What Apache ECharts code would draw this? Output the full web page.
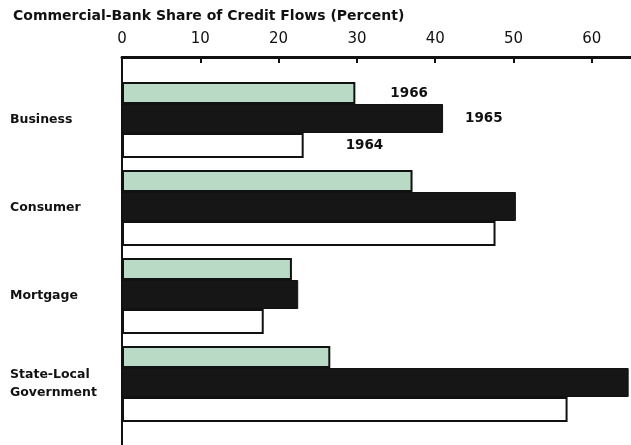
<!DOCTYPE html>
<html>
<head>
<meta charset="utf-8">
<script src="https://cdn.jsdelivr.net/npm/echarts@6/dist/echarts.min.js"></script>
<style>
  html, body { margin: 0; padding: 0; background: #fff; }
  #chart { width: 631px; height: 445px; }
</style>
</head>
<body>
<div id="chart"></div>
<script>
const categories = ["Business", "Consumer", "Mortgage", "State-Local\nGovernment"];
const seriesNames = ["1966", "1965", "1964"];
const share1966 = [29.8, 37.1, 21.7, 26.6];
const share1965 = [41.0, 50.3, 22.5, 64.7];
const share1964 = [23.2, 47.7, 18.1, 56.9];
const xTicks = [0, 10, 20, 30, 40, 50, 60];

const chart = echarts.init(document.getElementById("chart"));
const font = "DejaVu Sans";

// label only the first group (Business) with the year
function withYearLabel(values, dist) {
  return values.map((v, i) =>
    i === 0 ? { value: v, label: { show: true, position: "right", distance: dist } } : v
  );
}

const barLabel = {
  show: false,
  formatter: "{a}",
  color: "#111",
  fontFamily: font,
  fontWeight: "bold",
  fontSize: 13.5
};

const option = {
  animation: false,
  title: {
    text: "Commercial-Bank Share of Credit Flows (Percent)",
    left: 8,
    top: 4,
    textStyle: { fontFamily: font, fontWeight: "bold", fontSize: 14, color: "#111" }
  },
  grid: [
    { left: 122, right: 0, top: 76, height: 352 },
    { left: 122, right: 0, top: 57, bottom: 0 }
  ],
  xAxis: [
    { gridIndex: 0, type: "value", min: 0, max: 65, show: false },
    {
      gridIndex: 1,
      type: "value",
      position: "top",
      min: 0,
      max: 65,
      interval: 10,
      axisLine: { show: true, onZero: false, lineStyle: { color: "#111", width: 3 } },
      axisTick: {
        show: true,
        inside: true,
        length: 6,
        customValues: xTicks,
        lineStyle: { color: "#111", width: 2 }
      },
      splitLine: { show: false },
      axisLabel: {
        margin: 10,
        fontFamily: font,
        fontSize: 15,
        color: "#111",
        customValues: xTicks
      }
    }
  ],
  yAxis: [
    {
      gridIndex: 0,
      type: "category",
      inverse: true,
      data: categories,
      axisLine: { show: false },
      axisTick: { show: false },
      axisLabel: {
        align: "left",
        margin: 112,
        fontFamily: font,
        fontWeight: "bold",
        fontSize: 12.5,
        lineHeight: 18,
        color: "#111"
      }
    },
    {
      gridIndex: 1,
      type: "value",
      min: 0,
      max: 1,
      axisLine: { show: true, onZero: false, lineStyle: { color: "#111", width: 2 } },
      axisTick: { show: false },
      axisLabel: { show: false },
      splitLine: { show: false }
    }
  ],
  series: [
    {
      name: seriesNames[0],
      type: "bar",
      xAxisIndex: 0,
      yAxisIndex: 0,
      barWidth: 22,
      barGap: "0%",
      itemStyle: { color: "#b9dbc6", borderColor: "#111", borderWidth: 2 },
      label: barLabel,
      data: withYearLabel(share1966, 35)
    },
    {
      name: seriesNames[1],
      type: "bar",
      xAxisIndex: 0,
      yAxisIndex: 0,
      barWidth: 29,
      barGap: "0%",
      itemStyle: { color: "#161616", borderColor: "#111", borderWidth: 1 },
      label: barLabel,
      data: withYearLabel(share1965, 22)
    },
    {
      name: seriesNames[2],
      type: "bar",
      xAxisIndex: 0,
      yAxisIndex: 0,
      barWidth: 25,
      barGap: "0%",
      itemStyle: { color: "#ffffff", borderColor: "#111", borderWidth: 2 },
      label: barLabel,
      data: withYearLabel(share1964, 42)
    }
  ]
};

chart.setOption(option);
window.addEventListener("resize", () => chart.resize(), false);
</script>
</body>
</html>
